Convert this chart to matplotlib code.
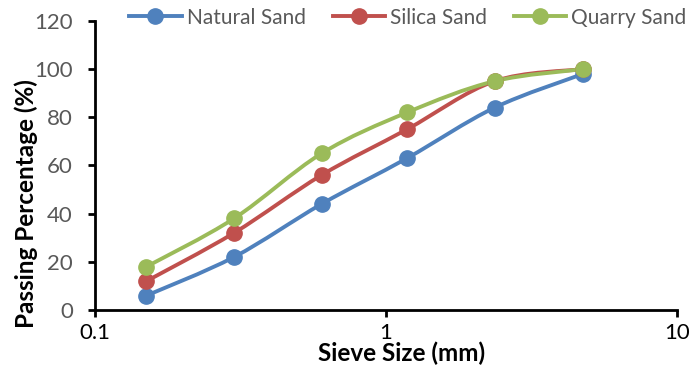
import numpy as np
import matplotlib
matplotlib.use("Agg")
import matplotlib.pyplot as plt
from matplotlib.path import Path
from matplotlib.patches import PathPatch
from matplotlib.lines import Line2D

sieve = [0.15, 0.3, 0.6, 1.18, 2.36, 4.75]
natural = [6, 22, 44, 63, 84, 98]
silica = [12, 32, 56, 75, 95, 100]
quarry = [18, 38, 65, 82, 95, 100]
names = ["Natural Sand", "Silica Sand", "Quarry Sand"]
colors = ["#4F81BD", "#C0504D", "#9BBB59"]

plt.rcParams['font.family'] = ['Lato', 'DejaVu Sans']

fig = plt.figure(figsize=(7, 3.74), dpi=100)
ax = fig.add_axes([0.136, 0.171, 0.831, 0.773])
ax.set_xscale('log')
ax.set_xlim(0.1, 10)
ax.set_ylim(0, 120)


def smooth_path(xs, ys):
    lx = np.log10(xs)
    pts = np.column_stack([lx, ys])
    n = len(pts)
    verts = [pts[0]]
    codes = [Path.MOVETO]
    for i in range(n - 1):
        p0 = pts[i - 1] if i > 0 else pts[i]
        p1 = pts[i]
        p2 = pts[i + 1]
        p3 = pts[i + 2] if i + 2 < n else pts[i + 1]
        c1 = p1 + (p2 - p0) / 6.0
        c2 = p2 - (p3 - p1) / 6.0
        verts += [c1, c2, p2]
        codes += [Path.CURVE4] * 3
    verts = np.array(verts)
    verts[:, 0] = 10 ** verts[:, 0]
    return Path(verts, codes)


handles = []
for ys, name, c in zip([natural, silica, quarry], names, colors):
    patch = PathPatch(smooth_path(sieve, ys), facecolor='none', edgecolor=c,
                      lw=2.8, transform=ax.transData, capstyle='round', joinstyle='round')
    ax.add_patch(patch)
    ax.plot(sieve, ys, linestyle='none', marker='o', markersize=11,
            color=c, markeredgecolor=c)
    handles.append(Line2D([], [], color=c, lw=2.8, marker='o', markersize=11))

for s in ['top', 'right']:
    ax.spines[s].set_visible(False)
for s in ['left', 'bottom']:
    ax.spines[s].set_linewidth(2.0)
    ax.spines[s].set_color('black')

ax.set_yticks(np.arange(0, 121, 20))
ax.set_xticks([0.1, 1, 10])
ax.set_xticklabels(['0.1', '1', '10'])
ax.xaxis.set_minor_locator(matplotlib.ticker.NullLocator())
ax.tick_params(axis='y', direction='out', length=5, width=2.0, labelsize=16,
               labelcolor='#595959', pad=11)
ax.tick_params(axis='x', direction='out', length=5, width=2.0, labelsize=16,
               labelcolor='black', pad=4)

ax.set_xlabel('Sieve Size (mm)', fontsize=17.5, fontweight='bold')
ax.xaxis.set_label_coords(0.527, -0.11)
ax.set_ylabel('Passing Percentage (%)', fontsize=17.5, fontweight='bold')
ax.yaxis.set_label_coords(-0.119, 0.37)
ax.yaxis.label.set_va('center')

leg = fig.legend(handles=handles, labels=names, loc='upper center',
                 bbox_to_anchor=(0.583, 1.03), ncol=3, frameon=False,
                 fontsize=15, handlelength=2.5, columnspacing=1.3, handletextpad=0.25)
for t in leg.get_texts():
    t.set_color('#595959')

fig.savefig('out.png', dpi=100)
